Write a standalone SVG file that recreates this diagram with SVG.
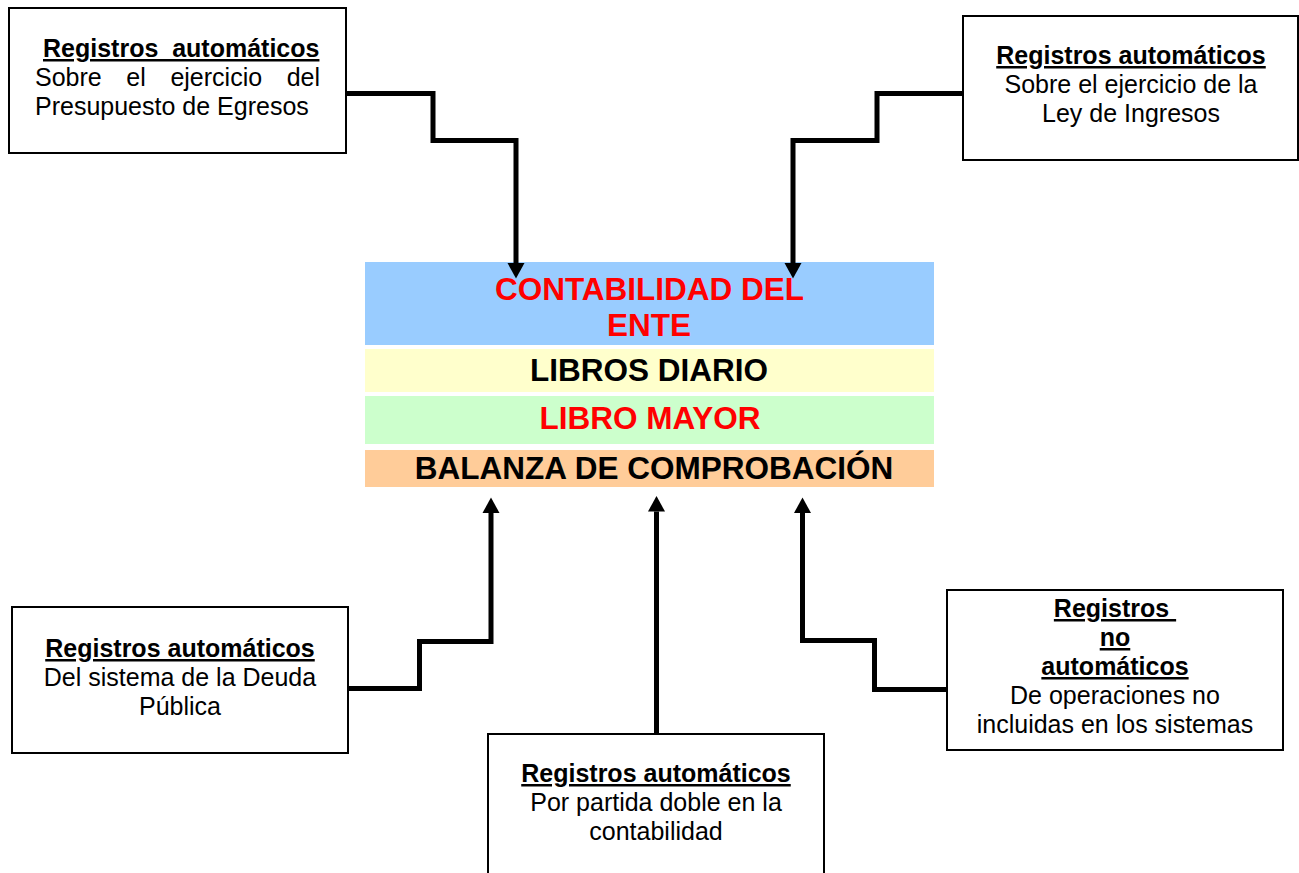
<svg xmlns="http://www.w3.org/2000/svg" width="1299" height="873" viewBox="0 0 1299 873">
<style>
  .box { fill: #ffffff; stroke: #000000; stroke-width: 2; }
  .t { font-family: "Liberation Sans", Arial, sans-serif; font-size: 25px; fill: #000000; }
  .h { font-weight: bold; text-decoration: underline; }
  .big { font-family: "Liberation Sans", Arial, sans-serif; font-size: 31.5px; font-weight: bold; text-anchor: middle; }
  .red { fill: #ff0000; }
  .blk { fill: #000000; }
  .c { text-anchor: middle; }
  .conn { fill: none; stroke: #000000; stroke-width: 5; stroke-linejoin: miter; }
</style>
<defs>
  <marker id="arr" markerUnits="userSpaceOnUse" markerWidth="16" markerHeight="18" refX="0" refY="8.5" orient="auto" viewBox="0 0 16 17">
    <path d="M0,0 L15.5,8.5 L0,17 z" fill="#000000"/>
  </marker>
</defs>
<rect width="1299" height="873" fill="#ffffff"/>

<g id="center-stack">
  <rect x="365" y="262" width="569" height="83" fill="#99ccff"/>
  <rect x="365" y="349" width="569" height="43" fill="#ffffcc"/>
  <rect x="365" y="396" width="569" height="48" fill="#ccffcc"/>
  <rect x="365" y="450" width="569" height="37" fill="#ffcc99"/>
  <text class="big red" x="649.5" y="300">CONTABILIDAD DEL</text>
  <text class="big red" x="649" y="336">ENTE</text>
  <text class="big blk" x="649" y="381">LIBROS DIARIO</text>
  <text class="big red" x="650" y="429">LIBRO MAYOR</text>
  <text class="big blk" x="654" y="479">BALANZA DE COMPROBACIÓN</text>
</g>

<g id="node-egresos">
  <rect class="box" x="9" y="8" width="337" height="145"/>
  <text class="t h" x="43" y="57" xml:space="preserve">Registros  automáticos</text>
  <text class="t" y="86"><tspan x="35">Sobre</tspan><tspan x="126.3">el</tspan><tspan x="170.4">ejercicio</tspan><tspan x="286.7">del</tspan></text>
  <text class="t" x="35" y="115">Presupuesto de Egresos</text>
</g>

<g id="node-ingresos">
  <rect class="box" x="963" y="16" width="335" height="144"/>
  <text class="t h c" x="1131" y="64">Registros automáticos</text>
  <text class="t c" x="1131" y="93">Sobre el ejercicio de la</text>
  <text class="t c" x="1131" y="122">Ley de Ingresos</text>
</g>

<g id="node-deuda">
  <rect class="box" x="12" y="607" width="336" height="146"/>
  <text class="t h c" x="180" y="657">Registros automáticos</text>
  <text class="t c" x="180" y="686">Del sistema de la Deuda</text>
  <text class="t c" x="180" y="715">Pública</text>
</g>

<g id="node-partida">
  <rect class="box" x="488" y="734" width="336" height="160"/>
  <text class="t h c" x="656" y="782">Registros automáticos</text>
  <text class="t c" x="656" y="811">Por partida doble en la</text>
  <text class="t c" x="656" y="840">contabilidad</text>
</g>

<g id="node-no-automaticos">
  <rect class="box" x="947" y="590" width="336" height="160"/>
  <text class="t h c" x="1115" y="617">Registros&#160;</text>
  <text class="t h c" x="1115" y="646">no</text>
  <text class="t h c" x="1115" y="675">automáticos</text>
  <text class="t c" x="1115" y="704">De operaciones no</text>
  <text class="t c" x="1115" y="733">incluidas en los sistemas</text>
</g>

<g id="connectors">
  <path class="conn" d="M347,93.5 H433 V140.5 H516 V263" marker-end="url(#arr)"/>
  <path class="conn" d="M962,93.5 H877 V140.5 H793 V263" marker-end="url(#arr)"/>
  <path class="conn" d="M349,688.5 H419.5 V641.5 H491 V513" marker-end="url(#arr)"/>
  <path class="conn" d="M656.5,733 V511.5" marker-end="url(#arr)"/>
  <path class="conn" d="M946,689.5 H874.5 V640.5 H802.5 V513" marker-end="url(#arr)"/>
</g>
</svg>
